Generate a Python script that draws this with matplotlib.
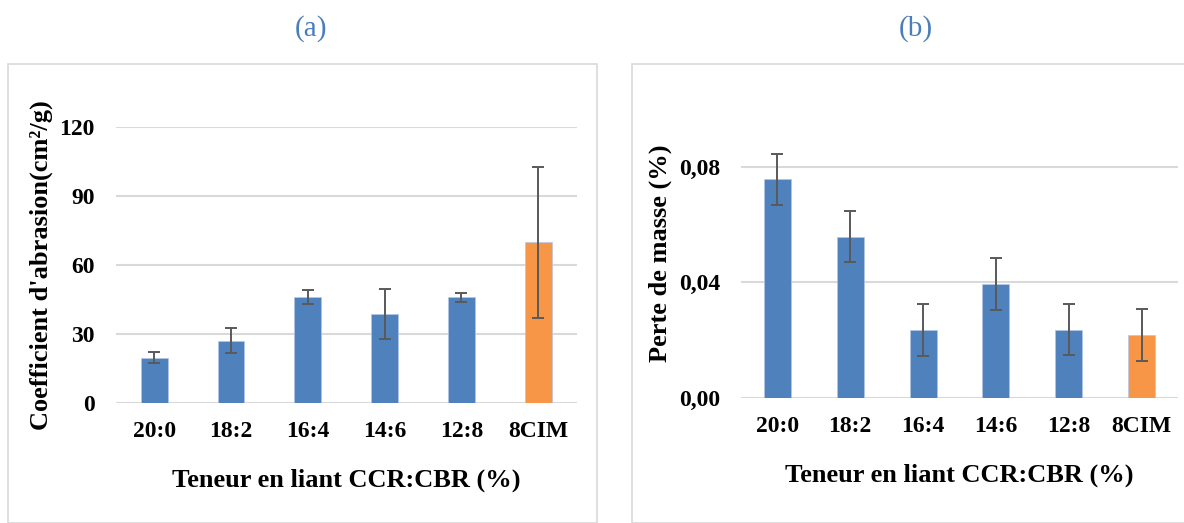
import matplotlib
matplotlib.use("Agg")
import matplotlib.pyplot as plt
from matplotlib.patches import Rectangle

plt.rcParams['font.family'] = ['Liberation Serif', 'DejaVu Serif']

# data
categories = ['20:0', '18:2', '16:4', '14:6', '12:8', '8CIM']
abrasion = [19.6, 27.0, 45.8, 38.7, 45.8, 69.7]
abrasion_err = [2.4, 5.5, 3.0, 10.9, 2.0, 32.9]
perte = [0.0756, 0.0558, 0.0233, 0.0393, 0.0236, 0.0216]
perte_err = [0.0089, 0.0089, 0.0090, 0.0090, 0.0088, 0.0090]
yticks_a = [0, 30, 60, 90, 120]
yticks_b = [0, 0.04, 0.08]
yticklabels_b = ['0,00', '0,04', '0,08']

blue = '#4f81bd'
orange = '#f79646'
colors = [blue] * 5 + [orange]

W, H = 1184, 523
fig = plt.figure(figsize=(W / 100, H / 100), dpi=100)

# panel frames
fig.patches.append(Rectangle((8 / W, 0), 589 / W, (H - 64) / H, transform=fig.transFigure,
                             fill=False, edgecolor='#d9d9d9', linewidth=1.2))
fig.patches.append(Rectangle((632 / W, 0), 560 / W, (H - 64) / H, transform=fig.transFigure,
                             fill=False, edgecolor='#d9d9d9', linewidth=1.2))

ax1 = fig.add_axes([115.7 / W, (H - 402.7) / H, 461 / W, 276 / H])
ax2 = fig.add_axes([741 / W, (H - 397.7) / H, 437 / W, 288.75 / H])


def style(ax):
    for s in ax.spines.values():
        s.set_visible(False)
    ax.set_axisbelow(True)
    ax.yaxis.grid(True, color='#d9d9d9', linewidth=1.5)
    ax.tick_params(length=0, labelsize=17)
    ax.tick_params(axis='y', pad=15)
    ax.tick_params(axis='x', pad=13)
    for t in ax.get_xticklabels() + ax.get_yticklabels():
        t.set_fontweight('bold')
    ax.set_xlim(-0.5, len(categories) - 0.5)


x = range(len(categories))
ax1.bar(x, abrasion, width=0.35, color=colors, edgecolor='#b4c7e7', linewidth=0.5)
ax1.errorbar(x, abrasion, yerr=abrasion_err, fmt='none', ecolor='#595959',
             elinewidth=1.4, capsize=4.5, capthick=1.4)
ax1.set_ylim(0, 120)
ax1.set_yticks(yticks_a)
ax1.set_xticks(list(x))
ax1.set_xticklabels(categories)
style(ax1)
ax1.set_ylabel("Coefficient d'abrasion(cm²/g)", fontsize=19, fontweight='bold', labelpad=5)
ax1.set_xlabel('Teneur en liant CCR:CBR (%)', fontsize=19, fontweight='bold', labelpad=19)

ax2.bar(x, perte, width=0.37, color=colors, edgecolor='#b4c7e7', linewidth=0.5)
ax2.errorbar(x, perte, yerr=perte_err, fmt='none', ecolor='#595959',
             elinewidth=1.4, capsize=4.5, capthick=1.4)
ax2.set_ylim(0, 0.1)
ax2.set_yticks(yticks_b)
ax2.set_yticklabels(yticklabels_b)
ax2.set_xticks(list(x))
ax2.set_xticklabels(categories)
style(ax2)
ax2.set_ylabel('Perte de masse (%)', fontsize=19, fontweight='bold', labelpad=5)
ax2.set_xlabel('Teneur en liant CCR:CBR (%)', fontsize=19, fontweight='bold', labelpad=19)

fig.text(311 / W, 1 - 29 / H, '(a)', fontsize=21, color='#4a7ebb', ha='center', va='center')
fig.text(916 / W, 1 - 29 / H, '(b)', fontsize=21, color='#4a7ebb', ha='center', va='center')

fig.savefig('out.png', dpi=100)
